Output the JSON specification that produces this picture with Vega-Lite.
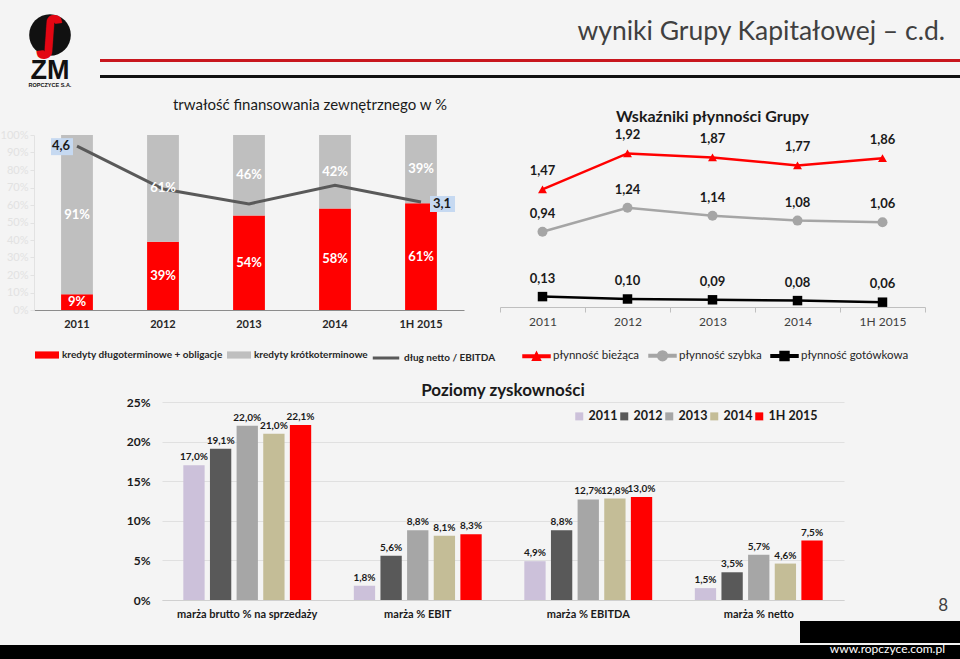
{
 "$schema": "https://vega.github.io/schema/vega-lite/v6.json",
 "padding": 0,
 "background": "#f4f4f4",
 "spacing": 0,
 "resolve": {"scale": {"color": "independent", "shape": "independent", "stroke": "independent"}},
 "config": {
  "font": "Lato",
  "view": {"stroke": null},
  "axis": {"labelFont": "Lato"},
  "legend": {"labelFont": "Lato"},
  "title": {"font": "Lato"}
 },
 "datasets": {
  "bars": [
   {"year": "2011", "series": "kredyty długoterminowe + obligacje", "value": 9},
   {"year": "2011", "series": "kredyty krótkoterminowe", "value": 91},
   {"year": "2012", "series": "kredyty długoterminowe + obligacje", "value": 39},
   {"year": "2012", "series": "kredyty krótkoterminowe", "value": 61},
   {"year": "2013", "series": "kredyty długoterminowe + obligacje", "value": 54},
   {"year": "2013", "series": "kredyty krótkoterminowe", "value": 46},
   {"year": "2014", "series": "kredyty długoterminowe + obligacje", "value": 58},
   {"year": "2014", "series": "kredyty krótkoterminowe", "value": 42},
   {"year": "1H 2015", "series": "kredyty długoterminowe + obligacje", "value": 61},
   {"year": "1H 2015", "series": "kredyty krótkoterminowe", "value": 39}
  ],
  "debt": [
   {"year": "2011", "value": 4.6},
   {"year": "2012", "value": 3.45},
   {"year": "2013", "value": 3.05},
   {"year": "2014", "value": 3.55},
   {"year": "1H 2015", "value": 3.1}
  ],
  "liq": [
   {"year": "2011", "series": "płynność bieżąca", "value": 1.47},
   {"year": "2012", "series": "płynność bieżąca", "value": 1.92},
   {"year": "2013", "series": "płynność bieżąca", "value": 1.87},
   {"year": "2014", "series": "płynność bieżąca", "value": 1.77},
   {"year": "1H 2015", "series": "płynność bieżąca", "value": 1.86},
   {"year": "2011", "series": "płynność szybka", "value": 0.94},
   {"year": "2012", "series": "płynność szybka", "value": 1.24},
   {"year": "2013", "series": "płynność szybka", "value": 1.14},
   {"year": "2014", "series": "płynność szybka", "value": 1.08},
   {"year": "1H 2015", "series": "płynność szybka", "value": 1.06},
   {"year": "2011", "series": "płynność gotówkowa", "value": 0.13},
   {"year": "2012", "series": "płynność gotówkowa", "value": 0.10},
   {"year": "2013", "series": "płynność gotówkowa", "value": 0.09},
   {"year": "2014", "series": "płynność gotówkowa", "value": 0.08},
   {"year": "1H 2015", "series": "płynność gotówkowa", "value": 0.06}
  ],
  "prof": [
   {"metric": "marża brutto % na sprzedaży", "year": "2011", "value": 17.0},
   {"metric": "marża brutto % na sprzedaży", "year": "2012", "value": 19.1},
   {"metric": "marża brutto % na sprzedaży", "year": "2013", "value": 22.0},
   {"metric": "marża brutto % na sprzedaży", "year": "2014", "value": 21.0},
   {"metric": "marża brutto % na sprzedaży", "year": "1H 2015", "value": 22.1},
   {"metric": "marża % EBIT", "year": "2011", "value": 1.8},
   {"metric": "marża % EBIT", "year": "2012", "value": 5.6},
   {"metric": "marża % EBIT", "year": "2013", "value": 8.8},
   {"metric": "marża % EBIT", "year": "2014", "value": 8.1},
   {"metric": "marża % EBIT", "year": "1H 2015", "value": 8.3},
   {"metric": "marża % EBITDA", "year": "2011", "value": 4.9},
   {"metric": "marża % EBITDA", "year": "2012", "value": 8.8},
   {"metric": "marża % EBITDA", "year": "2013", "value": 12.7},
   {"metric": "marża % EBITDA", "year": "2014", "value": 12.8},
   {"metric": "marża % EBITDA", "year": "1H 2015", "value": 13.0},
   {"metric": "marża % netto", "year": "2011", "value": 1.5},
   {"metric": "marża % netto", "year": "2012", "value": 3.5},
   {"metric": "marża % netto", "year": "2013", "value": 5.7},
   {"metric": "marża % netto", "year": "2014", "value": 4.6},
   {"metric": "marża % netto", "year": "1H 2015", "value": 7.5}
  ]
 },
 "vconcat": [
  {
   "spacing": 0,
   "hconcat": [
    {
     "width": 100, "height": 98,
     "data": {"values": [{"k": 1}]},
     "layer": [
      {"mark": {"type": "point", "filled": true, "color": "#111111", "opacity": 1, "size": 1735, "yOffset": -14}, "encoding": {}},
      {"mark": {"type": "text", "text": "∫", "font": "DejaVu Sans", "fontSize": 42, "fontWeight": "bold", "color": "#e30613", "stroke": "#e30613", "strokeWidth": 2.5, "yOffset": -14}, "encoding": {}},
      {"mark": {"type": "text", "text": "ZM", "font": "Liberation Sans", "fontSize": 27, "fontWeight": "bold", "color": "#111111", "yOffset": 22}, "encoding": {}},
      {"mark": {"type": "text", "text": "ROPCZYCE S.A.", "font": "Liberation Sans", "fontSize": 5.5, "fontWeight": "bold", "color": "#111111", "yOffset": 36}, "encoding": {}}
     ]
    },
    {
     "spacing": 0,
     "vconcat": [
      {"width": 860, "height": 59, "data": {"values": []}, "mark": "point",
       "title": {"text": "wyniki Grupy Kapitałowej – c.d.", "orient": "top", "anchor": "end", "dx": -15, "offset": -45, "fontSize": 26.5, "fontWeight": "normal", "color": "#404040"}},
      {"width": 860, "height": 3, "data": {"values": []}, "mark": "point", "view": {"fill": "#c8161d"}},
      {"width": 860, "height": 13, "data": {"values": []}, "mark": "point"},
      {"width": 860, "height": 3, "data": {"values": []}, "mark": "point", "view": {"fill": "#111111"}}
     ]
    }
   ]
  },
  {
   "spacing": 0, "bounds": "flush",
   "resolve": {"scale": {"color": "independent", "shape": "independent", "stroke": "independent"}},
   "hconcat": [
    {"width": 34, "height": 247, "data": {"values": []}, "mark": "point"},
    {
     "width": 430, "height": 175,
     "title": {"text": "trwałość finansowania zewnętrznego w %", "anchor": "middle", "dx": 61, "offset": 16, "fontSize": 15, "fontWeight": "normal", "color": "#1a1a1a"},
     "layer": [
      {
       "data": {"name": "bars"},
       "transform": [{"stack": "value", "groupby": ["year"], "sort": [{"field": "series", "order": "ascending"}], "as": ["v0", "v1"]}],
       "mark": {"type": "bar"},
       "encoding": {
        "x": {"field": "year", "type": "nominal", "scale": {"domain": ["2011", "2012", "2013", "2014", "1H 2015"], "paddingInner": 0.63, "paddingOuter": 0.315},
              "axis": {"title": null, "labelAngle": 0, "labelFontWeight": "bold", "labelFontSize": 11, "labelColor": "#262626", "ticks": false, "domainColor": "#8c8c8c", "labelPadding": 8}},
        "y": {"field": "v1", "type": "quantitative", "scale": {"domain": [0, 100]},
              "axis": {"values": [0, 10, 20, 30, 40, 50, 60, 70, 80, 90, 100], "labelExpr": "datum.value + '%'", "title": null, "grid": false, "labelColor": "#e2e2e2", "domainColor": "#e2e2e2", "tickColor": "#e2e2e2", "labelFontSize": 11, "labelPadding": 2, "tickSize": 4}},
        "y2": {"field": "v0"},
        "color": {"field": "series", "type": "nominal",
                  "scale": {"domain": ["kredyty długoterminowe + obligacje", "kredyty krótkoterminowe"], "range": ["#ff0000", "#bfbfbf"]},
                  "legend": {"orient": "none", "legendX": 1, "legendY": 208, "direction": "horizontal", "title": null, "symbolType": "M-1,-0.3H1V0.3H-1Z", "symbolSize": 576, "symbolStrokeWidth": 0, "labelFontSize": 10, "labelFontWeight": "bold", "labelColor": "#262626", "labelOffset": 3, "columnPadding": 4, "labelLimit": 300}}
       }
      },
      {
       "data": {"name": "debt"},
       "mark": {"type": "line", "strokeWidth": 3},
       "encoding": {
        "x": {"field": "year", "type": "nominal"},
        "y": {"field": "value", "type": "quantitative", "scale": {"domain": [0.2, 4.9]}, "axis": null},
        "stroke": {"datum": "dług netto / EBITDA", "type": "nominal", "scale": {"range": ["#595959"]},
                   "legend": {"orient": "none", "legendX": 337, "legendY": 208, "direction": "horizontal", "title": null, "symbolType": "stroke", "symbolSize": 700, "symbolStrokeWidth": 3, "labelFontSize": 10, "labelFontWeight": "bold", "labelColor": "#262626", "labelOffset": 3, "labelLimit": 300}}
       }
      },
      {
       "data": {"name": "bars"},
       "transform": [
        {"stack": "value", "groupby": ["year"], "sort": [{"field": "series", "order": "ascending"}], "as": ["v0", "v1"]},
        {"calculate": "(datum.v0 + datum.v1) / 2", "as": "mid"},
        {"calculate": "datum.value + '%'", "as": "lbl"}
       ],
       "mark": {"type": "text", "color": "#ffffff", "fontWeight": "bold", "fontSize": 13},
       "encoding": {
        "x": {"field": "year", "type": "nominal"},
        "y": {"field": "mid", "type": "quantitative", "scale": {"domain": [0, 100]}, "axis": null},
        "text": {"field": "lbl"}
       }
      },
      {
       "data": {"name": "debt"},
       "transform": [{"filter": "datum.year === '2011'"}],
       "mark": {"type": "point", "shape": "M-2.6,-0.8H-0.4V0.9H-2.6Z", "size": 400, "filled": true, "color": "#c6d9f1", "opacity": 1, "strokeWidth": 0},
       "encoding": {
        "x": {"field": "year", "type": "nominal"},
        "y": {"field": "value", "type": "quantitative", "scale": {"domain": [0.2, 4.9]}, "axis": null}
       }
      },
      {
       "data": {"name": "debt"},
       "transform": [{"filter": "datum.year === '1H 2015'"}],
       "mark": {"type": "point", "shape": "M0.9,-0.6H3.4V1.0H0.9Z", "size": 400, "filled": true, "color": "#c6d9f1", "opacity": 1, "strokeWidth": 0},
       "encoding": {
        "x": {"field": "year", "type": "nominal"},
        "y": {"field": "value", "type": "quantitative", "scale": {"domain": [0.2, 4.9]}, "axis": null}
       }
      },
      {
       "data": {"name": "debt"},
       "transform": [{"filter": "datum.year === '2011'"}, {"calculate": "replace(format(datum.value, '.1f'), '.', ',')", "as": "lbl"}],
       "mark": {"type": "text", "dx": -16, "dy": 0, "fontWeight": "bold", "fontSize": 13, "color": "#1a1a1a"},
       "encoding": {
        "x": {"field": "year", "type": "nominal"},
        "y": {"field": "value", "type": "quantitative", "scale": {"domain": [0.2, 4.9]}, "axis": null},
        "text": {"field": "lbl"}
       }
      },
      {
       "data": {"name": "debt"},
       "transform": [{"filter": "datum.year === '1H 2015'"}, {"calculate": "replace(format(datum.value, '.1f'), '.', ',')", "as": "lbl"}],
       "mark": {"type": "text", "dx": 21, "dy": 2, "fontWeight": "bold", "fontSize": 13, "color": "#1a1a1a"},
       "encoding": {
        "x": {"field": "year", "type": "nominal"},
        "y": {"field": "value", "type": "quantitative", "scale": {"domain": [0.2, 4.9]}, "axis": null},
        "text": {"field": "lbl"}
       }
      }
     ],
     "resolve": {"scale": {"y": "independent"}}
    },
    {"width": 36, "height": 175, "data": {"values": []}, "mark": "point"},
    {
     "width": 425, "height": 172,
     "title": {"text": "Wskaźniki płynności Grupy", "fontSize": 16, "fontWeight": "bold", "offset": 4, "color": "#1a1a1a"},
     "data": {"name": "liq"},
     "transform": [{"calculate": "replace(format(datum.value, '.2f'), '.', ',')", "as": "lbl"}],
     "encoding": {
      "x": {"field": "year", "type": "nominal", "scale": {"domain": ["2011", "2012", "2013", "2014", "1H 2015"], "paddingInner": 0, "paddingOuter": 0},
            "axis": {"title": null, "labelAngle": 0, "tickBand": "extent", "domainColor": "#bfbfbf", "tickColor": "#bfbfbf", "tickSize": 5, "labelFontSize": 12, "labelColor": "#404040", "labelPadding": 4}},
      "y": {"field": "value", "type": "quantitative", "scale": {"domain": [0, 2.15]}, "axis": null},
      "color": {"field": "series", "type": "nominal",
                "scale": {"domain": ["płynność bieżąca", "płynność szybka", "płynność gotówkowa"], "range": ["#ff0000", "#a5a5a5", "#000000"]},
                "legend": {"orient": "none", "legendX": 22, "legendY": 206, "direction": "horizontal", "title": null, "symbolSize": 729, "labelFontSize": 11.5, "labelColor": "#262626", "labelOffset": 2, "columnPadding": 6, "labelLimit": 300,
                           "encode": {"symbols": {"update": {
                             "shape": {"signal": "datum.value === 'płynność bieżąca' ? 'M-1,-0.09H1V0.09H-1Z M-0.3,0.3L0,-0.3L0.3,0.3Z' : datum.value === 'płynność szybka' ? 'M-1,-0.09H1V0.09H-1Z M-0.36,0A0.36,0.36 0 1,1 0.36,0A0.36,0.36 0 1,1 -0.36,0Z' : 'M-1,-0.09H1V0.09H-1Z M-0.33,-0.33H0.33V0.33H-0.33Z'"},
                             "fill": {"signal": "datum.value === 'płynność bieżąca' ? '#ff0000' : datum.value === 'płynność szybka' ? '#a5a5a5' : '#000000'"},
                             "stroke": {"value": "transparent"},
                             "opacity": {"value": 1}
                           }}}}}
     },
     "layer": [
      {"mark": {"type": "line", "strokeWidth": 2.5}},
      {"transform": [{"filter": "datum.series === 'płynność bieżąca'"}],
       "mark": {"type": "point", "shape": "triangle-up", "filled": true, "opacity": 1, "size": 80}},
      {"transform": [{"filter": "datum.series === 'płynność szybka'"}],
       "mark": {"type": "point", "shape": "circle", "filled": true, "opacity": 1, "size": 100}},
      {"transform": [{"filter": "datum.series === 'płynność gotówkowa'"}],
       "mark": {"type": "point", "shape": "square", "filled": true, "opacity": 1, "size": 90}},
      {"mark": {"type": "text", "dy": -18, "fontSize": 13, "fontWeight": "bold"},
       "encoding": {"text": {"field": "lbl"}, "color": {"value": "#1a1a1a"}}}
     ]
    },
    {"width": 35, "height": 175, "data": {"values": []}, "mark": "point"}
   ]
  },
  {
   "spacing": 0, "bounds": "flush",
   "resolve": {"scale": {"color": "independent"}},
   "hconcat": [
    {"width": 162, "height": 219, "data": {"values": []}, "mark": "point"},
    {
     "width": 682, "height": 198,
     "title": {"text": "Poziomy zyskowności", "fontSize": 17, "fontWeight": "bold", "offset": -4, "color": "#1a1a1a"},
     "data": {"name": "prof"},
     "transform": [{"calculate": "replace(format(datum.value, '.1f'), '.', ',') + '%'", "as": "lbl"}],
     "encoding": {
      "x": {"field": "metric", "type": "nominal", "scale": {"domain": ["marża brutto % na sprzedaży", "marża % EBIT", "marża % EBITDA", "marża % netto"], "paddingInner": 0.25, "paddingOuter": 0.125},
            "axis": {"title": null, "labelAngle": 0, "labelFontWeight": "bold", "labelFontSize": 11, "labelColor": "#1a1a1a", "ticks": false, "domainColor": "#d0d0d0", "labelPadding": 8}},
      "xOffset": {"field": "year", "type": "nominal", "scale": {"domain": ["2011", "2012", "2013", "2014", "1H 2015"], "paddingInner": 0.2, "paddingOuter": 0}},
      "y": {"field": "value", "type": "quantitative", "scale": {"domain": [0, 25]},
            "axis": {"values": [0, 5, 10, 15, 20, 25], "labelExpr": "datum.value + '%'", "title": null, "labelFontWeight": "bold", "labelFontSize": 12, "labelColor": "#1a1a1a", "ticks": false, "domain": false, "gridColor": "#e0e0e0", "labelPadding": 12}}
     },
     "layer": [
      {"mark": {"type": "bar"},
       "encoding": {"color": {"field": "year", "type": "nominal",
         "scale": {"domain": ["2011", "2012", "2013", "2014", "1H 2015"], "range": ["#ccc1da", "#595959", "#a6a6a6", "#c4bd97", "#ff0000"]},
         "legend": {"orient": "none", "legendX": 411, "legendY": 8, "direction": "horizontal", "title": null, "symbolType": "square", "symbolSize": 64, "symbolStrokeWidth": 0, "labelFontSize": 12.5, "labelFontWeight": "bold", "labelColor": "#1a1a1a", "labelOffset": 3, "columnPadding": 0}}}},
      {"mark": {"type": "text", "baseline": "bottom", "dy": -3, "fontSize": 10, "fontWeight": "bold", "color": "#1a1a1a"},
       "encoding": {"text": {"field": "lbl"}}}
     ]
    },
    {"width": 116, "height": 198, "data": {"values": []}, "mark": "point",
     "title": {"text": "8", "orient": "top", "anchor": "end", "dx": -12, "offset": -213, "fontSize": 17, "fontWeight": "normal", "color": "#404040"}}
   ]
  },
  {
   "spacing": 0, "bounds": "flush",
   "hconcat": [
    {"width": 800, "height": 22, "data": {"values": []}, "mark": "point"},
    {"width": 160, "height": 22, "data": {"values": []}, "mark": "point", "view": {"fill": "#000000"}}
   ]
  },
  {"width": 960, "height": 16, "data": {"values": []}, "mark": "point", "view": {"fill": "#000000"},
   "title": {"text": "www.ropczyce.com.pl", "orient": "top", "anchor": "end", "dx": -15, "offset": -11, "fontSize": 12, "fontWeight": "normal", "color": "#ffffff"}}
 ]
}
